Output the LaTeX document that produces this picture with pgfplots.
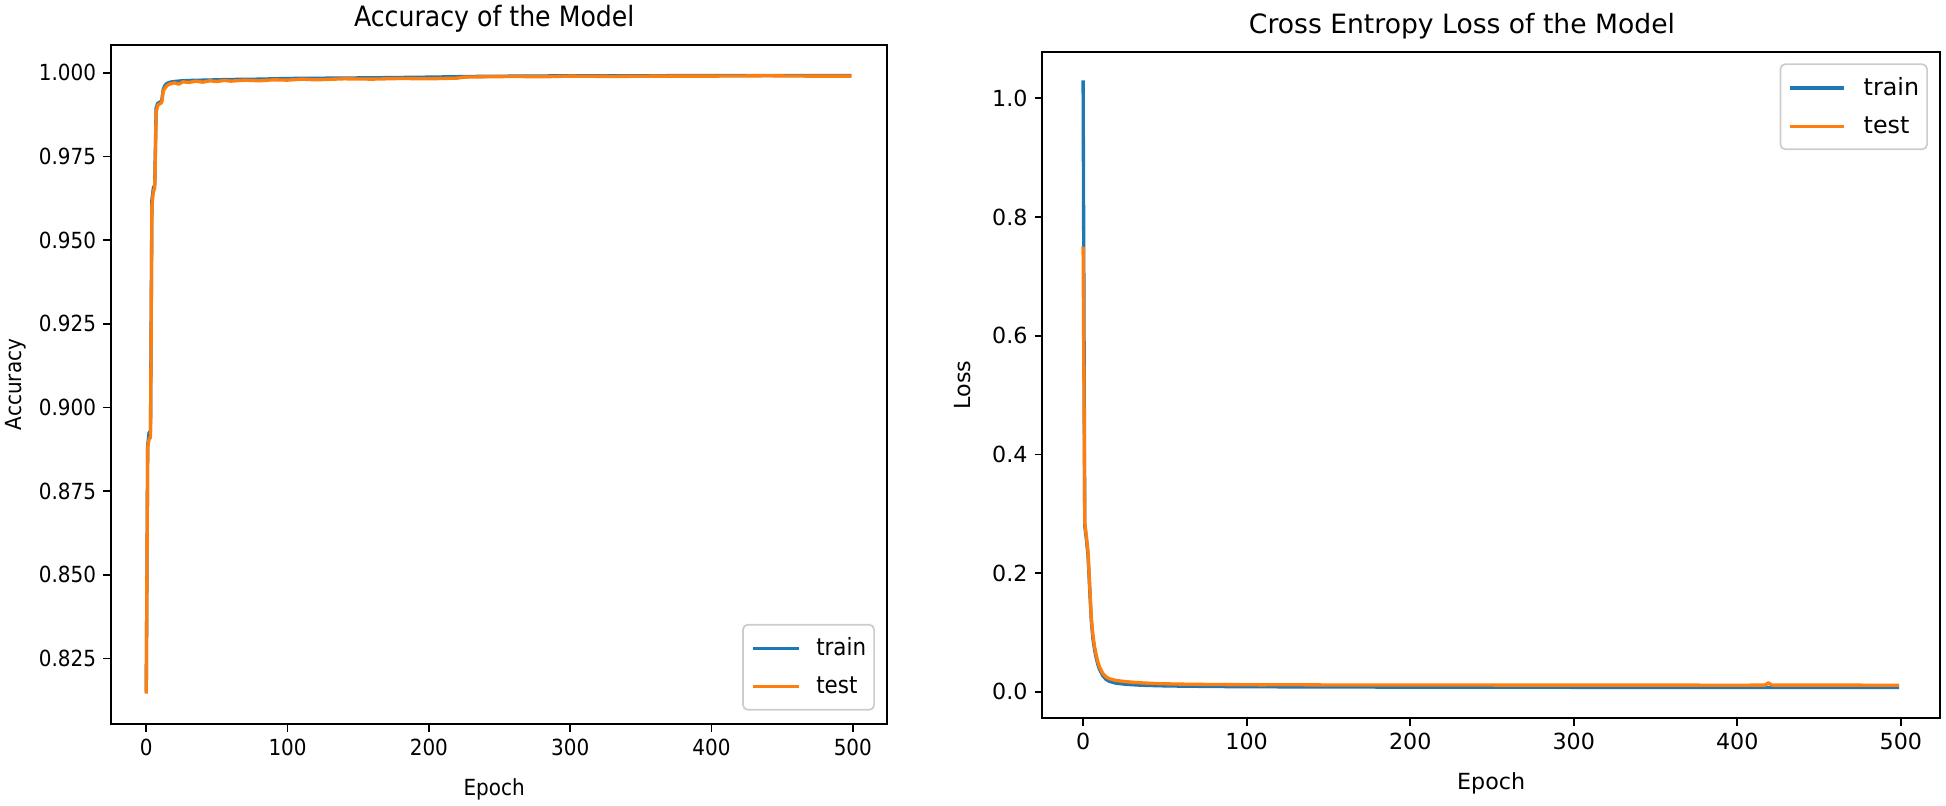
\documentclass[border=0pt]{standalone}
\usepackage{fontspec}
\setmainfont{DejaVu Sans}
\newfontfamily\condfont[FakeStretch=0.9]{DejaVu Sans}
\usepackage{pgfplots}
\pgfplotsset{compat=1.18}
\usepackage{pgfplotstable}
\definecolor{mplblue}{HTML}{1F77B4}
\definecolor{mplorange}{HTML}{FF7F0E}

\pgfplotstableread{
epoch acc
0 0.8150
1 0.8885
2 0.8925
3 0.8928
4 0.9620
5 0.9655
6 0.9665
7 0.9895
8 0.9908
9 0.9911
10 0.9913
11 0.9918
12 0.9950
13 0.9960
14 0.9966
15 0.9969
17 0.9972
20 0.9974
25 0.9976
30 0.9977
40 0.9978
50 0.9979
60 0.9980
80 0.9981
100 0.9983
130 0.9984
160 0.9985
200 0.9987
230 0.9989
260 0.9990
300 0.9991
350 0.9991
400 0.9992
450 0.9992
499 0.9992
}\acctrain

\pgfplotstableread{
epoch acc
0 0.8145
1 0.8880
2 0.8905
3 0.8910
4 0.9600
5 0.9645
6 0.9655
7 0.9880
8 0.9902
9 0.9906
10 0.9908
11 0.9912
12 0.9945
13 0.9952
14 0.9958
15 0.9963
17 0.9967
20 0.9970
23 0.9966
26 0.9973
30 0.9971
35 0.9975
40 0.9972
45 0.9976
50 0.9974
55 0.9977
60 0.9975
70 0.9978
80 0.9976
90 0.9979
100 0.9978
110 0.9981
120 0.9979
140 0.9982
160 0.9981
180 0.9983
200 0.9982
220 0.9984
225 0.9987
240 0.9988
260 0.9989
280 0.9988
300 0.9990
330 0.9989
360 0.9990
400 0.9990
440 0.9991
470 0.9990
499 0.9990
}\acctest

\pgfplotstableread{
epoch loss
0 1.030
1 0.280
2 0.257
3 0.230
4 0.174
5 0.120
6 0.089
7 0.071
8 0.057
9 0.046
10 0.038
12 0.027
14 0.021
16 0.0175
20 0.0145
26 0.0125
35 0.0110
47 0.0100
60 0.0094
80 0.0088
100 0.0084
150 0.0080
200 0.0077
300 0.0074
400 0.0072
499 0.0070
}\losstrain

\pgfplotstableread{
epoch loss
0 0.750
1 0.285
2 0.262
3 0.235
4 0.180
5 0.125
6 0.095
7 0.076
8 0.062
9 0.050
10 0.042
12 0.031
14 0.025
16 0.0220
20 0.0190
26 0.0170
35 0.0150
47 0.0135
60 0.0128
77 0.0122
90 0.0120
108 0.0116
130 0.0117
150 0.0114
180 0.0113
200 0.0112
250 0.0112
300 0.0111
350 0.0111
400 0.0110
417 0.0111
419 0.0150
421 0.0112
450 0.0111
499 0.0110
}\losstest

\pgfplotsset{
  mplaxis/.style={
    scale only axis,
    anchor=south west,
    axis line style={line width=0.85pt},
    tick align=outside,
    tick pos=left,
    major tick length=3.9pt,
    every tick/.style={black, line width=0.85pt},
    xmin=-24.95, xmax=523.95,
    xtick={0,100,200,300,400,500},
    /pgf/number format/assume math mode=true,
    legend cell align=left,
    legend image code/.code={\draw[##1, line width=1.67pt] (0pt,0pt) -- (27pt,0pt);},
    every axis plot/.append style={line width=1.67pt, line join=round},
  }
}

\begin{document}
\begin{tikzpicture}
\path[use as bounding box] (0,0) rectangle (973pt,402.5pt);

% Left: accuracy
\begin{axis}[mplaxis,
  at={(55.5pt,40.5pt)}, width=387.85pt, height=339.5pt,
  ymin=0.8054, ymax=1.0083,
  ytick={0.825,0.85,0.875,0.9,0.925,0.95,0.975,1.0},
  yticklabels={0.825,0.850,0.875,0.900,0.925,0.950,0.975,1.000},
  ticklabel style={font=\condfont\fontsize{11.1pt}{13pt}\selectfont},
  title={Accuracy of the Model},
  title style={at={(axis description cs:0.494,1)}, anchor=base, yshift=3.3pt, font=\condfont\fontsize{14pt}{16pt}\selectfont},
  xlabel={Epoch},
  xlabel style={at={(axis description cs:0.494,-0.0957)}, anchor=center, font=\condfont\fontsize{11.1pt}{13pt}\selectfont},
  ylabel={Accuracy},
  ylabel style={at={(axis description cs:-0.1225,0.5)}, anchor=center, font=\condfont\fontsize{11.1pt}{13pt}\selectfont},
  legend style={at={(0.9849,0.0196)}, anchor=south east, draw=black!20, line width=0.85pt, rounded corners=2.5pt, fill=white,
    inner xsep=4pt, inner ysep=6.6pt, row sep=9pt, nodes={inner sep=0pt},
    /tikz/every odd column/.append style={column sep=8pt},
    font=\condfont\fontsize{11.9pt}{14pt}\selectfont},
  legend image code/.code={\draw[#1, line width=1.67pt] (0pt,0pt) -- (23pt,0pt);},
]
\addplot[mplblue] table[x=epoch, y=acc] {\acctrain};
\addlegendentry{train}
\addplot[mplorange] table[x=epoch, y=acc] {\acctest};
\addlegendentry{test}
\end{axis}

% Right: loss
\begin{axis}[mplaxis,
  at={(521.15pt,43.35pt)}, width=448.85pt, height=333.3pt,
  ymin=-0.0448, ymax=1.0785,
  ytick={0,0.2,0.4,0.6,0.8,1.0},
  yticklabels={0.0,0.2,0.4,0.6,0.8,1.0},
  ticklabel style={font=\fontsize{11.1pt}{13pt}\selectfont},
  title={Cross Entropy Loss of the Model},
  title style={at={(axis description cs:0.4675,1)}, anchor=base, yshift=3.3pt, font=\fontsize{13.3pt}{15pt}\selectfont},
  xlabel={Epoch},
  xlabel style={at={(axis description cs:0.5,-0.0971)}, anchor=center, font=\fontsize{11.1pt}{13pt}\selectfont},
  ylabel={Loss},
  ylabel style={at={(axis description cs:-0.0891,0.5)}, anchor=center, font=\fontsize{11.1pt}{13pt}\selectfont},
  legend style={at={(0.9866,0.9826)}, anchor=north east, draw=black!20, line width=0.85pt, rounded corners=2.5pt, fill=white,
    inner xsep=4pt, inner ysep=6.6pt, row sep=9pt, nodes={inner sep=0pt},
    /tikz/every odd column/.append style={column sep=9pt},
    font=\fontsize{11.9pt}{14pt}\selectfont},
]
\addplot[mplblue] table[x=epoch, y=loss] {\losstrain};
\addlegendentry{train}
\addplot[mplorange] table[x=epoch, y=loss] {\losstest};
\addlegendentry{test}
\end{axis}
\end{tikzpicture}
\end{document}
